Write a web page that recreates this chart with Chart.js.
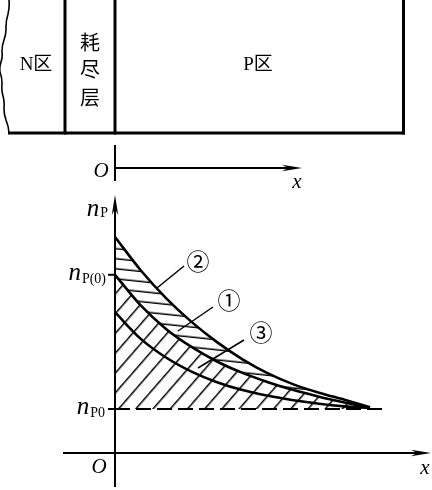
<!DOCTYPE html>
<html>
<head>
<meta charset="utf-8">
<script src="https://cdn.jsdelivr.net/npm/chart.js@4/dist/chart.umd.min.js"></script>
<style>
  html, body { margin: 0; padding: 0; background: #fff; }
  #wrap { width: 432px; height: 490px; }
</style>
</head>
<body>
<div id="wrap"><canvas id="c" width="432" height="490"></canvas></div>
<script>
// ---------------- data ----------------
// distance from the depletion-layer edge (arbitrary units)
const xPositions = [0, 1, 2, 3, 4, 5, 6, 7, 8, 9, 10];
// minority-carrier concentration n_P (units of n_P0)
const curve1 = [4.05, 3.36, 2.82, 2.41, 2.08, 1.82, 1.61, 1.43, 1.28, 1.15, 1.03]; // ①
const curve2 = [4.91, 4.16, 3.52, 2.98, 2.52, 2.13, 1.81, 1.56, 1.37, 1.21, 1.04]; // ②
const curve3 = [3.20, 2.60, 2.17, 1.85, 1.61, 1.43, 1.30, 1.20, 1.12, 1.06, 1.02]; // ③
const equilibriumLevel = 1.0;        // n_P0
const injectedLevel = 4.05;          // n_P(0)
const dashedEndX = 10.6;
const curveLabels = ['①', '②', '③'];
const regionLabels = ['N区', '耗', '尽', '层', 'P区'];

// ---------------- helpers ----------------
function hatch(ctx, spacing, angleDeg, lw) {
  const c = document.createElement('canvas');
  c.width = 200; c.height = spacing;
  const g = c.getContext('2d');
  g.strokeStyle = '#000'; g.lineWidth = lw;
  g.beginPath(); g.moveTo(0, spacing / 2); g.lineTo(200, spacing / 2); g.stroke();
  const p = ctx.createPattern(c, 'repeat');
  p.setTransform(new DOMMatrix().rotateSelf(angleDeg));
  return p;
}
function arrow(ctx, x1, y1, x2, y2, len, half) {
  const a = Math.atan2(y2 - y1, x2 - x1);
  ctx.beginPath(); ctx.moveTo(x1, y1);
  ctx.lineTo(x2 - Math.cos(a) * len * 0.6, y2 - Math.sin(a) * len * 0.6); ctx.stroke();
  ctx.beginPath();
  ctx.moveTo(x2, y2);
  ctx.lineTo(x2 - Math.cos(a) * len - Math.sin(a) * half, y2 - Math.sin(a) * len + Math.cos(a) * half);
  ctx.lineTo(x2 - Math.cos(a) * len * 0.7, y2 - Math.sin(a) * len * 0.7);
  ctx.lineTo(x2 - Math.cos(a) * len + Math.sin(a) * half, y2 - Math.sin(a) * len - Math.cos(a) * half);
  ctx.closePath(); ctx.fill();
}
function subLabel(ctx, main, sub, xRight, yBase, mainSize, subSize, subDrop) {
  ctx.textBaseline = 'alphabetic';
  ctx.font = subSize + 'px "Liberation Serif"';
  const sw = ctx.measureText(sub).width;
  ctx.font = 'italic ' + mainSize + 'px "Liberation Serif"';
  const mw = ctx.measureText(main).width;
  const x0 = xRight - sw - mw;
  ctx.textAlign = 'left';
  ctx.fillText(main, x0, yBase);
  ctx.font = subSize + 'px "Liberation Serif"';
  ctx.fillText(sub, x0 + mw + 1, yBase + subDrop);
}

const ctx0 = document.getElementById('c').getContext('2d');
const diagPattern = hatch(ctx0, 13.5, -49, 1.4);
const horizPattern = hatch(ctx0, 10.5, 6, 1.4);

const pts = arr => arr.map((v, i) => ({ x: xPositions[i], y: v }));

const decor = {
  id: 'decor',
  afterDatasetsDraw(chart) {
    const ctx = chart.ctx;
    const xs = chart.scales.x, ys = chart.scales.y;
    const X = v => xs.getPixelForValue(v), Y = v => ys.getPixelForValue(v);
    const ox = X(0), oy = Y(0);
    ctx.save();
    ctx.strokeStyle = '#000'; ctx.fillStyle = '#000';
    ctx.lineCap = 'butt';

    // ---- top schematic: N区 / 耗尽层 / P区 ----
    ctx.lineWidth = 1.6;
    ctx.beginPath();
    const wave = [[9,0],[8,14],[6,28],[4,40],[2,52],[1,62],[0,72],[2,84],[3,96],[4,108],[6,120],[9,133]];
    ctx.moveTo(wave[0][0], wave[0][1]);
    for (let i = 1; i < wave.length; i++) {
      const mx = (wave[i-1][0] + wave[i][0]) / 2 + (i % 2 ? 1.2 : -1.2);
      const my = (wave[i-1][1] + wave[i][1]) / 2;
      ctx.quadraticCurveTo(mx, my, wave[i][0], wave[i][1]);
    }
    ctx.stroke();
    ctx.lineWidth = 3;
    ctx.beginPath(); ctx.moveTo(8, 133); ctx.lineTo(405, 133); ctx.stroke();
    [65, ox, 403.5].forEach(x => { ctx.beginPath(); ctx.moveTo(x, 0); ctx.lineTo(x, 134.5); ctx.stroke(); });

    ctx.textAlign = 'center'; ctx.textBaseline = 'middle';
    ctx.font = '19px "Liberation Serif", "Noto Sans CJK SC"';
    ctx.fillText(regionLabels[0], 36, 65);
    ctx.fillText(regionLabels[4], 258, 65);
    ctx.font = '20px "Noto Sans CJK SC"';
    ctx.fillText(regionLabels[1], 90, 42);
    ctx.fillText(regionLabels[2], 90, 69);
    ctx.fillText(regionLabels[3], 90, 97);

    // ---- top position axis ----
    ctx.lineWidth = 2;
    ctx.beginPath(); ctx.moveTo(ox, 145); ctx.lineTo(ox, 181); ctx.stroke();
    arrow(ctx, ox, 168, 302, 168, 20, 3.2);
    ctx.font = 'italic 21px "Liberation Serif"';
    ctx.textAlign = 'center'; ctx.textBaseline = 'middle';
    ctx.fillText('O', 101, 171);
    ctx.fillText('x', 297, 182);

    // ---- concentration axes ----
    ctx.lineWidth = 2;
    arrow(ctx, ox, 487, ox, 195, 20, 3.2);
    arrow(ctx, 63, oy, 431, oy, 20, 3.2);
    ctx.fillText('O', 99, 467);
    ctx.fillText('x', 425, 468);
    // ticks for n_P(0) and n_P0
    [injectedLevel, equilibriumLevel].forEach(v => {
      ctx.beginPath(); ctx.moveTo(ox - 7, Y(v)); ctx.lineTo(ox, Y(v)); ctx.stroke();
    });
    subLabel(ctx, 'n', 'P', 107, 216, 25, 14, 1);
    subLabel(ctx, 'n', 'P(0)', 105, Y(injectedLevel) + 5, 25, 14, 3);
    subLabel(ctx, 'n', 'P0', 104, Y(equilibriumLevel) + 5, 25, 14, 3);

    // ---- curve labels with leader lines ----
    ctx.lineWidth = 1.5;
    const leaders = [
      [213, 307, 178, 331, 229, 300],  // ①
      [184, 266, 157, 288, 198, 261],  // ②
      [244, 340, 198, 368, 261, 332]   // ③
    ];
    leaders.forEach((l, i) => {
      ctx.beginPath(); ctx.moveTo(l[0], l[1]); ctx.lineTo(l[2], l[3]); ctx.stroke();
      ctx.font = '23px "Noto Sans CJK SC"';
      ctx.textAlign = 'center'; ctx.textBaseline = 'middle';
      ctx.fillText(curveLabels[i], l[4], l[5]);
    });
    ctx.restore();
  }
};

new Chart(ctx0, {
  type: 'line',
  data: {
    datasets: [
      { data: [{ x: 0, y: equilibriumLevel }, { x: dashedEndX, y: equilibriumLevel }],
        borderColor: '#000', borderWidth: 1.8, borderDash: [15, 6], pointRadius: 0, fill: false },
      { data: pts(curve1), borderColor: '#000', borderWidth: 2.6, pointRadius: 0,
        cubicInterpolationMode: 'monotone', fill: { value: equilibriumLevel }, backgroundColor: diagPattern },
      { data: pts(curve2), borderColor: '#000', borderWidth: 2.6, pointRadius: 0,
        cubicInterpolationMode: 'monotone', fill: 1, backgroundColor: horizPattern },
      { data: pts(curve3), borderColor: '#000', borderWidth: 2.6, pointRadius: 0,
        cubicInterpolationMode: 'monotone', fill: false }
    ]
  },
  options: {
    responsive: false,
    animation: false,
    events: [],
    layout: { padding: 0 },
    plugins: { legend: { display: false }, tooltip: { enabled: false }, filler: { propagate: false } },
    scales: {
      x: { type: 'linear', display: false, min: -115 / 25.5, max: (432 - 115) / 25.5 },
      y: { type: 'linear', display: false, min: -(490 - 453) / 44, max: 453 / 44 }
    }
  },
  plugins: [decor]
});
</script>
</body>
</html>
